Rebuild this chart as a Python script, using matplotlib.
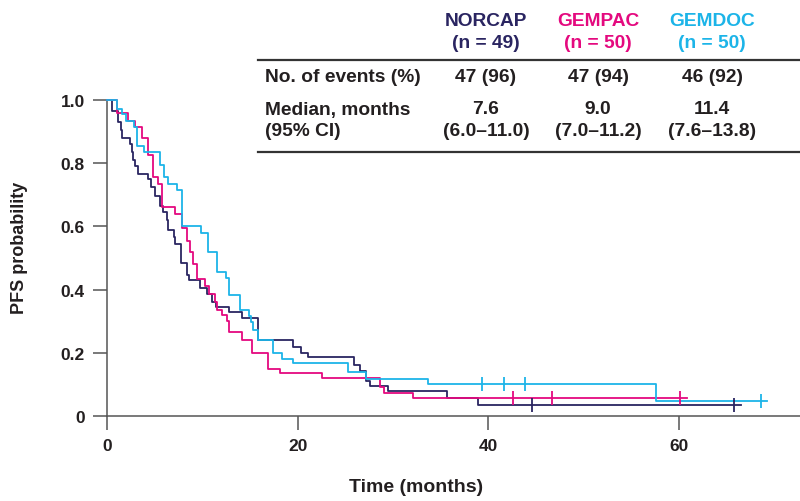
import matplotlib.pyplot as plt
import numpy as np
from matplotlib.lines import Line2D

plt.rcParams["font.family"] = ["Liberation Sans", "DejaVu Sans"]
plt.rcParams["font.weight"] = "bold"

# Kaplan-Meier steps (time in months, PFS probability after the step)
norcap_t = [0, 0.55, 1.2, 1.45, 1.6, 2.4, 2.6, 2.75, 2.95, 3.3, 4.3, 4.65, 5.0, 5.6, 5.9,
            6.25, 6.45, 7.05, 7.15, 7.8, 8.35, 8.55, 9.75, 10.45, 11.0, 11.45, 12.75, 14.15,
            15.8, 19.5, 20.3, 21.1, 25.9, 26.5, 27.2, 27.6, 29.5, 35.7, 38.9]
norcap_s = [1.0, 0.965, 0.93, 0.905, 0.88, 0.86, 0.835, 0.81, 0.79, 0.765, 0.75, 0.725, 0.695,
            0.665, 0.645, 0.62, 0.59, 0.565, 0.545, 0.485, 0.445, 0.43, 0.405, 0.385, 0.36,
            0.345, 0.33, 0.31, 0.24, 0.217, 0.2, 0.188, 0.161, 0.141, 0.112, 0.094, 0.078,
            0.056, 0.035]
norcap_end = 66.5
norcap_cens = [44.6, 65.8]

gempac_t = [0, 1.1, 2.25, 2.95, 3.65, 4.35, 4.8, 5.4, 5.75, 7.15, 7.85, 8.35, 8.7, 9.05, 9.45,
            10.3, 10.65, 11.3, 11.5, 12.05, 12.55, 12.75, 14.15, 15.2, 16.9, 18.2, 22.6, 28.6,
            29.1, 32.1]
gempac_s = [1.0, 0.96, 0.935, 0.915, 0.88, 0.825, 0.755, 0.735, 0.66, 0.64, 0.595, 0.555, 0.52,
            0.48, 0.435, 0.41, 0.385, 0.36, 0.335, 0.32, 0.3, 0.265, 0.24, 0.2, 0.15, 0.135,
            0.12, 0.092, 0.074, 0.057]
gempac_end = 60.8
gempac_cens = [42.6, 46.7, 60.1]

gemdoc_t = [0, 1.1, 1.55, 1.95, 2.85, 3.1, 3.9, 5.6, 5.95, 6.4, 7.3, 7.85, 9.9, 10.6, 11.55,
            12.5, 12.75, 14.0, 14.85, 15.15, 15.35, 15.8, 17.4, 18.4, 19.5, 25.3, 27.2, 33.7,
            57.6]
gemdoc_s = [1.0, 0.97, 0.955, 0.935, 0.915, 0.855, 0.835, 0.795, 0.755, 0.735, 0.715, 0.6,
            0.578, 0.518, 0.455, 0.436, 0.383, 0.337, 0.318, 0.296, 0.272, 0.24, 0.2, 0.18,
            0.167, 0.14, 0.116, 0.101, 0.048]
gemdoc_end = 69.2
gemdoc_cens = [39.3, 41.7, 43.9, 68.6]

arms = ["NORCAP", "GEMPAC", "GEMDOC"]
arm_n = ["(n = 49)", "(n = 50)", "(n = 50)"]
events = ["47 (96)", "47 (94)", "46 (92)"]
medians = ["7.6", "9.0", "11.4"]
median_ci = ["(6.0\u201311.0)", "(7.0\u201311.2)", "(7.6\u201313.8)"]
colors = ["#2a2561", "#e4097f", "#1cb4e8"]

W, H = 800, 502
fig = plt.figure(figsize=(W / 100, H / 100), dpi=100)


def fx(x):
    return x / W


def fy(y):
    return 1 - y / H


ax = fig.add_axes([fx(107), fy(417), fx(800) - fx(107), fy(101) - fy(417)])

curves = [
    (norcap_t, norcap_s, norcap_end, norcap_cens),
    (gempac_t, gempac_s, gempac_end, gempac_cens),
    (gemdoc_t, gemdoc_s, gemdoc_end, gemdoc_cens),
]
for (t, s, end, cens), c in zip(curves, colors):
    tt = np.append(t, end)
    ss = np.append(s, s[-1])
    ax.step(tt, ss, where="post", color=c, lw=1.3, clip_on=False, zorder=3)
    idx = np.searchsorted(t, cens, side="right") - 1
    ax.plot(cens, np.asarray(s)[idx], ls="none", marker="|", ms=10, mew=1.3,
            color=c, clip_on=False, zorder=4)

ax.set_xlim(0, 72.7)
ax.set_ylim(0, 1.0)
ax.set_xticks([0, 20, 40, 60])
ax.set_yticks([0, 0.2, 0.4, 0.6, 0.8, 1.0])
ax.set_yticklabels(["0", "0.2", "0.4", "0.6", "0.8", "1.0"])
for side in ["top", "right"]:
    ax.spines[side].set_visible(False)
for side in ["left", "bottom"]:
    ax.spines[side].set_color("#555555")
    ax.spines[side].set_linewidth(1.1)
ax.tick_params(direction="out", length=10, width=1.1, color="#555555",
               labelsize=12.5, labelcolor="#231f20", pad=6)

fig.text(fx(20), fy(248), "PFS probability", rotation=90, ha="center", va="center",
         fontsize=13, color="#231f20")
fig.text(fx(416), fy(488), "Time (months)", ha="center", va="center",
         fontsize=14, color="#231f20")

# summary table
fs = 13.8
col_x = [486, 598, 712]
for x, name, n, c in zip(col_x, arms, arm_n, colors):
    fig.text(fx(x), fy(22), name, ha="center", va="center", fontsize=fs, color=c)
    fig.text(fx(x), fy(44), n, ha="center", va="center", fontsize=fs, color=c)

fig.text(fx(265), fy(78), "No. of events (%)", ha="left", va="center", fontsize=fs, color="#231f20")
fig.text(fx(265), fy(110), "Median, months", ha="left", va="center", fontsize=fs, color="#231f20")
fig.text(fx(265), fy(132), "(95% CI)", ha="left", va="center", fontsize=fs, color="#231f20")
for x, e, m, ci in zip(col_x, events, medians, median_ci):
    fig.text(fx(x), fy(78), e, ha="center", va="center", fontsize=fs, color="#231f20")
    fig.text(fx(x), fy(110), m, ha="center", va="center", fontsize=fs, color="#231f20")
    fig.text(fx(x), fy(132), ci, ha="center", va="center", fontsize=fs, color="#231f20")

for y in [61, 153]:
    fig.add_artist(Line2D([fx(258), 1], [fy(y), fy(y)], color="#333333", lw=1.6))

fig.savefig("out.png", dpi=100)
